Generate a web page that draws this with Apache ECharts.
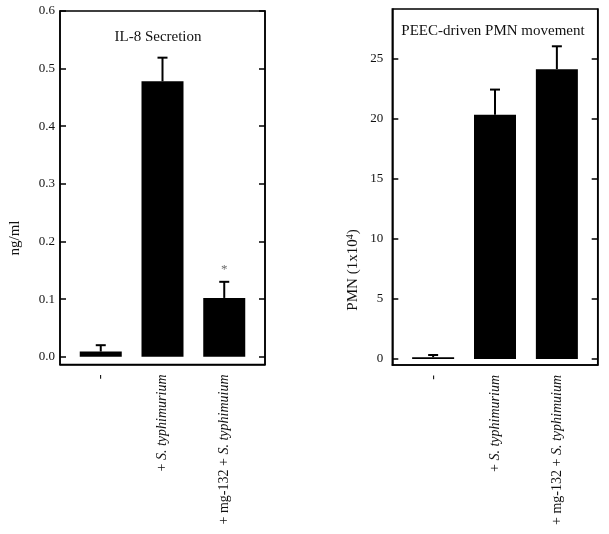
<!DOCTYPE html>
<html>
<head>
<meta charset="utf-8">
<script src="https://cdn.jsdelivr.net/npm/echarts@6/dist/echarts.min.js"></script>
<style>
html,body{margin:0;padding:0;background:#fff;}
#chart{width:609px;height:534px;}
</style>
</head>
<body>
<div id="chart"></div>
<script>
// ---- data ----
var categories = ['-', '+ S. typhimurium', '+ mg-132 + S. typhimuium'];
var il8Values = [0.009, 0.478, 0.102];
var il8Errors = [0.011, 0.041, 0.028];
var il8Marks = ['', '', '*'];
var il8Ticks = [0, 0.1, 0.2, 0.3, 0.4, 0.5, 0.6];
var pmnValues = [0.15, 20.3, 24.1];
var pmnErrors = [0.18, 2.1, 1.9];
var pmnTicks = [0, 5, 10, 15, 20, 25];

var FONT = "'Liberation Serif', 'DejaVu Serif', serif";
var catIdx = categories.map(function (c, i) { return i; });

function richLabel(v) {
  var s = categories[Math.round(v)];
  if (s === undefined) return '';
  return s.replace(/(S\. \S+)$/, '{i|$1}');
}

function makeX(gridIndex) {
  return {
    type: 'value', gridIndex: gridIndex, min: -0.66, max: 2.66,
    splitLine: { show: false },
    axisLine: { show: true, onZero: false, lineStyle: { color: '#000', width: 1.5 } },
    axisTick: { show: false },
    axisLabel: {
      customValues: catIdx, rotate: 90, margin: 10,
      formatter: richLabel,
      fontFamily: FONT, fontSize: 14, color: '#111',
      rich: { i: { fontFamily: FONT, fontSize: 14, fontStyle: 'italic', color: '#111' } }
    }
  };
}
function makeY(gridIndex, min, max, ticks, fmt, margin) {
  return [{
    type: 'value', gridIndex: gridIndex, min: min, max: max, position: 'left',
    splitLine: { show: false },
    axisLine: { show: true, onZero: false, lineStyle: { color: '#000', width: 1.5 } },
    axisTick: { show: true, inside: true, length: 6, customValues: ticks, lineStyle: { color: '#000', width: 1.5 } },
    axisLabel: { customValues: ticks, formatter: fmt, margin: margin, fontFamily: FONT, fontSize: 13, color: '#111' }
  }, {
    type: 'value', gridIndex: gridIndex, min: min, max: max, position: 'right',
    splitLine: { show: false },
    axisLine: { show: true, onZero: false, lineStyle: { color: '#000', width: 1.5 } },
    axisTick: { show: true, inside: true, length: 6, customValues: ticks, lineStyle: { color: '#000', width: 1.5 } },
    axisLabel: { show: false }
  }];
}

function errorSeries(xi, yi, values, errors) {
  return {
    type: 'custom', xAxisIndex: xi, yAxisIndex: yi, z: 3,
    data: values.map(function (v, i) { return [i, v, v + errors[i]]; }),
    renderItem: function (params, api) {
      var base = api.coord([api.value(0), api.value(1)]);
      var top = api.coord([api.value(0), api.value(2)]);
      var style = { stroke: '#000', lineWidth: 2 };
      return {
        type: 'group',
        children: [
          { type: 'line', shape: { x1: base[0], y1: base[1], x2: top[0], y2: top[1] }, style: style },
          { type: 'line', shape: { x1: top[0] - 5, y1: top[1], x2: top[0] + 5, y2: top[1] }, style: style }
        ]
      };
    }
  };
}

var yL = makeY(0, -0.0135, 0.6, il8Ticks, function (v) { return v.toFixed(1); }, 5);
var yR = makeY(1, -0.5, 29.1, pmnTicks, function (v) { return String(v); }, 9);

var option = {
  backgroundColor: '#fff',
  animation: false,
  title: [
    { text: 'IL-8 Secretion', left: 158, top: 30, textAlign: 'center', padding: 0,
      textStyle: { fontFamily: FONT, fontSize: 15, fontWeight: 'normal', color: '#111' } },
    { text: 'PEEC-driven PMN movement', left: 493, top: 24, textAlign: 'center', padding: 0,
      textStyle: { fontFamily: FONT, fontSize: 15, fontWeight: 'normal', color: '#111' } }
  ],
  grid: [
    { left: 60, right: 344, top: 11, bottom: 169.5, show: true, borderColor: '#000', borderWidth: 1.5 },
    { left: 392.3, right: 11.3, top: 9, bottom: 169, show: true, borderColor: '#000', borderWidth: 1.5 }
  ],
  xAxis: [makeX(0), makeX(1)],
  yAxis: [yL[0], yL[1], yR[0], yR[1]],
  graphic: [
    { type: 'text', x: 15, y: 238, rotation: Math.PI / 2,
      style: { text: 'ng/ml', font: "15px 'Liberation Serif'", fill: '#111', align: 'center', verticalAlign: 'middle' } },
    { type: 'text', x: 353, y: 270, rotation: Math.PI / 2,
      style: { text: 'PMN (1x10{sup|4})', font: "15px 'Liberation Serif'", fill: '#111', align: 'center', verticalAlign: 'middle',
        rich: { sup: { fontSize: 10, fontFamily: FONT, verticalAlign: 'top', padding: [0, 0, 6, 0], fill: '#111' } } } }
  ],
  series: [
    { type: 'bar', xAxisIndex: 0, yAxisIndex: 0, barWidth: 42, z: 2,
      itemStyle: { color: '#000' },
      data: il8Values.map(function (v, i) { return [i, v]; }) },
    errorSeries(0, 0, il8Values, il8Errors),
    { type: 'scatter', xAxisIndex: 0, yAxisIndex: 0, symbolSize: 0, z: 4,
      data: il8Values.map(function (v, i) { return [i, v + il8Errors[i]]; }),
      label: { show: true, position: 'top', distance: 6,
        formatter: function (p) { return il8Marks[p.dataIndex]; },
        fontFamily: FONT, fontSize: 13, color: '#444' } },
    { type: 'bar', xAxisIndex: 1, yAxisIndex: 2, barWidth: 42, z: 2,
      itemStyle: { color: '#000' },
      data: pmnValues.map(function (v, i) { return [i, v]; }) },
    errorSeries(1, 2, pmnValues, pmnErrors)
  ]
};

var chart = echarts.init(document.getElementById('chart'), null, { renderer: 'canvas' });
chart.setOption(option);
</script>
</body>
</html>
